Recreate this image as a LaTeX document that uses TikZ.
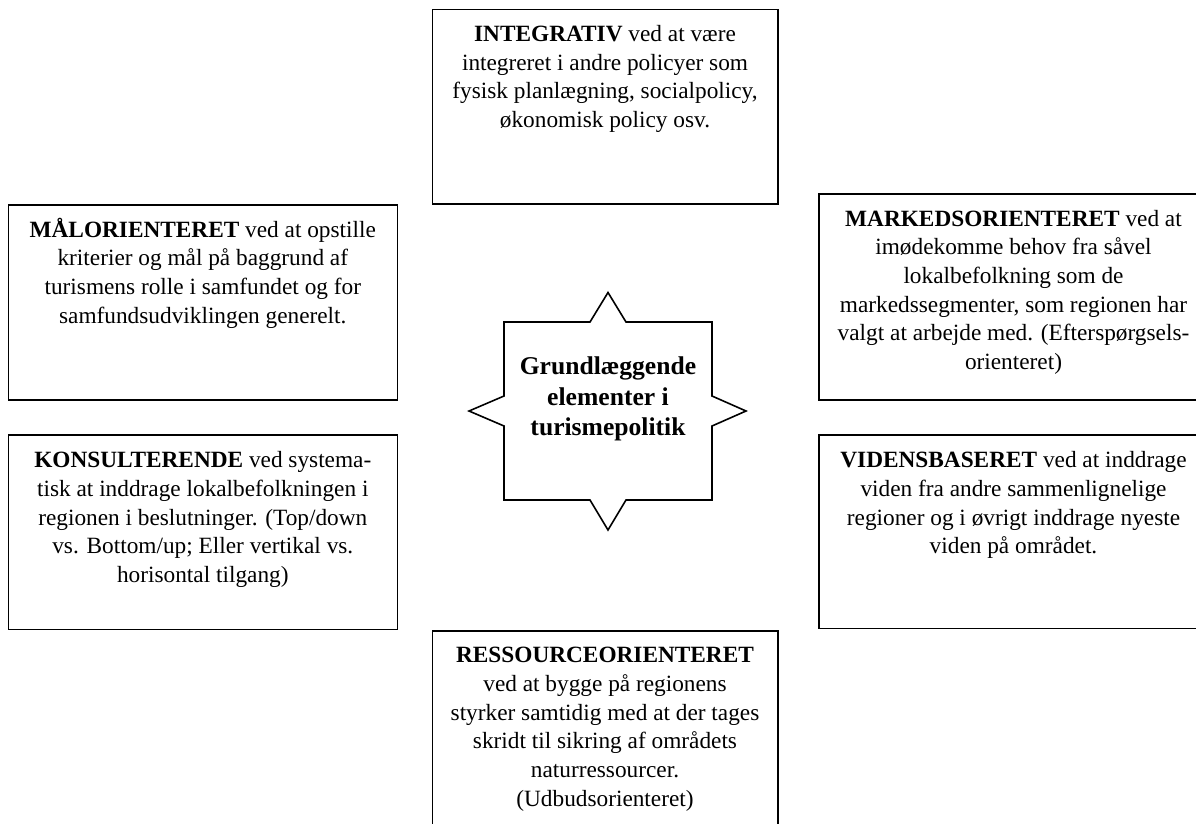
\documentclass[tikz,border=0pt]{standalone}
\usepackage{fontspec}
\setmainfont{Liberation Serif}
\begin{document}
\begin{tikzpicture}[x=1pt,y=-1pt,
  box/.style={draw=black, line width=1.6pt, rectangle, inner sep=0pt, outer sep=0pt, anchor=north west},
  txt/.style={align=center, inner sep=0pt, anchor=north, font=\fontsize{23.3}{28.7}\selectfont},
  startxt/.style={align=center, inner sep=0pt, anchor=north, font=\bfseries\fontsize{25.6}{30.5}\selectfont},
  starline/.style={draw=black, line width=1.6pt, line join=miter}]
\useasboundingbox (0,0) rectangle (1196,823);
\clip (0,0) rectangle (1196,823);

% boxes
\node[box, minimum width=345.4pt, minimum height=194.7pt] (bint) at (432.3,9.3) {};
\node[box, minimum width=389pt, minimum height=195pt] (bmal) at (8.3,205) {};
\node[box, minimum width=389pt, minimum height=206pt] (bmark) at (819,194) {};
\node[box, minimum width=389pt, minimum height=194.3pt] (bkons) at (8.3,435) {};
\node[box, minimum width=389pt, minimum height=193.3pt] (bvid) at (819,435) {};
\node[box, minimum width=345.4pt, minimum height=200pt] (bres) at (432.3,630.7) {};

% texts
\node[txt] (tint) at (605,21.2) {\strut\textbf{INTEGRATIV} ved at være\\integreret i andre policyer som\\fysisk planlægning, socialpolicy,\\økonomisk policy osv.};
\node[txt] (tmal) at (202.8,216.9) {\strut\textbf{MÅLORIENTERET} ved at opstille\\kriterier og mål på baggrund af\\turismens rolle i samfundet og for\\samfundsudviklingen generelt.};
\node[txt] (tmark) at (1013.5,205.9) {\strut\textbf{MARKEDSORIENTERET} ved at\\imødekomme behov fra såvel\\lokalbefolkning som de\\markedssegmenter, som regionen har\\valgt at arbejde med. (Efterspørgsels-\\orienteret)};
\node[txt] (tkons) at (202.8,447.5) {\strut\textbf{KONSULTERENDE} ved systema-\\tisk at inddrage lokalbefolkningen i\\regionen i beslutninger. (Top/down\\vs. Bottom/up; Eller vertikal vs.\\horisontal tilgang)};
\node[txt] (tvid) at (1013.5,447.5) {\strut\textbf{VIDENSBASERET} ved at inddrage\\viden fra andre sammenlignelige\\regioner og i øvrigt inddrage nyeste\\viden på området.};
\node[txt] (tres) at (605,642.5) {\strut\textbf{RESSOURCEORIENTERET}\\ved at bygge på regionens\\styrker samtidig med at der tages\\skridt til sikring af områdets\\naturressourcer.\\(Udbudsorienteret)};

% central star
\draw[starline] (504,322) -- (590,322) -- (608,292.5) -- (626,322) -- (712,322)
  -- (712,396) -- (746,411) -- (712,426) -- (712,500)
  -- (626,500) -- (608,530) -- (590,500) -- (504,500)
  -- (504,426) -- (469,411) -- (504,396) -- cycle;
\node[startxt] (tstar) at (608,353.2) {\strut Grundlæggende\\elementer i\\turismepolitik};
\end{tikzpicture}
\end{document}
